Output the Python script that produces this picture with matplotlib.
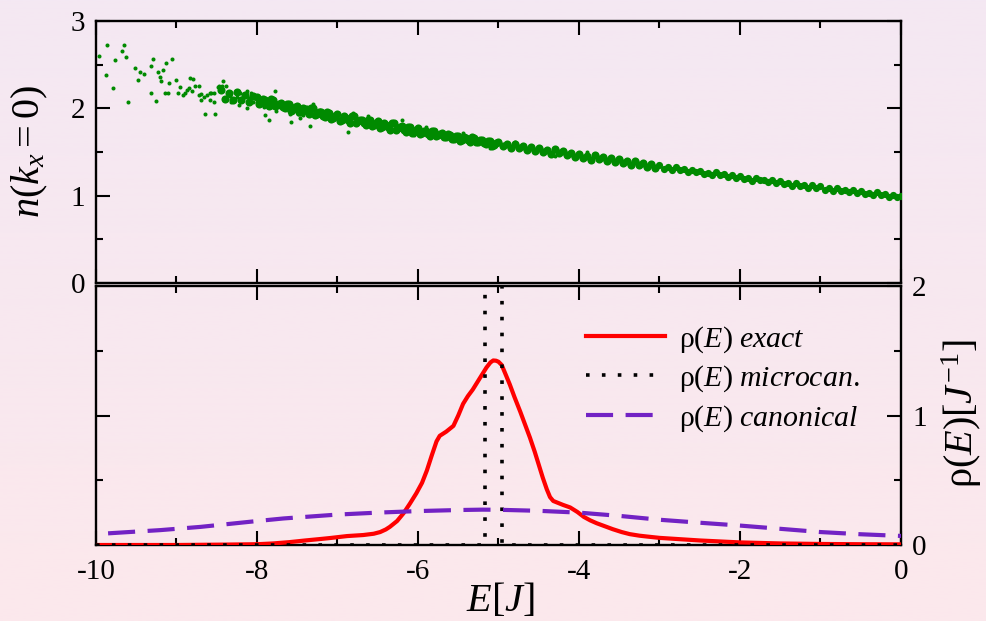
import numpy as np
import matplotlib
matplotlib.use("Agg")
import matplotlib.pyplot as plt
from matplotlib.ticker import MultipleLocator, FuncFormatter

plt.rcParams['font.family'] = ['Liberation Serif', 'DejaVu Serif']
plt.rcParams['mathtext.fontset'] = 'custom'
plt.rcParams['mathtext.rm'] = 'Liberation Serif'
plt.rcParams['mathtext.it'] = 'Liberation Serif:italic'
plt.rcParams['axes.unicode_minus'] = False

# ---------------- data: top panel (n(k_x=0) vs E) ----------------
sparse_E = [-9.96, -9.86, -9.87, -9.79, -9.77, -9.68, -9.65, -9.63, -9.60, -9.51,
            -9.48, -9.45, -9.40, -9.32, -9.32, -9.29, -9.25, -9.23, -9.21, -9.17,
            -9.19, -9.13, -9.14, -9.11, -9.09, -9.06, -9.01, -8.98, -8.96, -8.92,
            -8.90, -8.87, -8.83, -8.80, -8.85, -8.81, -8.77, -8.72, -8.72, -8.69,
            -8.69, -8.66, -8.65, -8.62, -8.59, -8.59, -8.57, -8.53, -8.54, -8.52,
            -8.49, -8.47, -8.44, -8.42, -8.43, -8.39, -8.38, -8.34, -8.32, -8.29,
            -8.26, -8.25, -8.21, -8.22, -8.19, -8.15, -8.13, -8.12, -8.10, -8.07,
            -8.05, -8.04, -8.00, -8.00, -7.97, -7.93, -7.91, -7.90, -7.88, -7.85,
            -7.83, -7.81, -7.78, -7.77, -7.75, -7.71, -7.68, -7.65, -7.62, -7.59,
            -7.58, -7.55, -7.52, -7.49, -7.47, -7.43, -7.40, -7.38, -7.36, -7.34,
            -7.32, -7.30, -7.28, -7.25, -7.22, -7.20, -7.16, -7.11,
            -6.87, -6.81, -6.62, -6.20, -6.05, -5.90, -5.44, -5.10, -4.80, -4.30, -3.90]
sparse_n = [2.60, 2.73, 2.38, 2.23, 2.55, 2.66, 2.72, 2.59, 2.07, 2.46,
            2.33, 2.42, 2.39, 2.49, 2.17, 2.57, 2.08, 2.42, 2.36, 2.44,
            2.31, 2.52, 2.17, 2.17, 2.29, 2.56, 2.33, 2.18, 2.24, 2.15,
            2.17, 2.21, 2.35, 2.34, 2.23, 2.20, 2.26, 2.26, 2.15, 2.16,
            2.09, 2.13, 1.94, 2.15, 2.18, 2.09, 2.18, 2.18, 2.07, 1.94,
            2.24, 2.26, 2.26, 2.31, 2.22, 2.26, 2.11, 2.14, 2.07, 2.11,
            2.20, 2.13, 2.17, 2.04, 2.12, 2.15, 2.20, 2.00, 2.12, 2.17,
            2.07, 2.12, 2.07, 2.13, 2.09, 2.05, 2.01, 1.92, 2.07, 1.87,
            2.02, 2.05, 2.20, 1.97, 2.02, 2.02, 2.05, 2.01, 2.06, 1.94,
            1.84, 1.96, 1.99, 1.94, 1.89, 1.92, 1.97, 2.02, 1.92, 1.80,
            1.94, 2.05, 1.98, 1.92, 1.98, 1.91, 1.94, 1.91,
            1.73, 1.95, 1.91, 1.87, 1.69, 1.79, 1.72, 1.55, 1.62, 1.45, 1.50]

band_E = [-8.45, -8.40, -8.35, -8.30, -8.25, -8.20, -8.15, -8.10, -8.05,
          -8.00, -7.95, -7.90, -7.85, -7.80, -7.75, -7.70, -7.65, -7.60, -7.55,
          -7.50, -7.45, -7.40, -7.35, -7.30, -7.25, -7.20, -7.15, -7.10, -7.05,
          -7.00, -6.95, -6.90, -6.85, -6.80, -6.75, -6.70, -6.65, -6.60, -6.55,
          -6.50, -6.45, -6.40, -6.35, -6.30, -6.25, -6.20, -6.15, -6.10, -6.05,
          -6.00, -5.95, -5.90, -5.85, -5.80, -5.75, -5.70, -5.65, -5.60, -5.55,
          -5.50, -5.45, -5.40, -5.35, -5.30, -5.25, -5.20, -5.15, -5.10, -5.05,
          -5.00, -4.95, -4.90, -4.85, -4.80, -4.75, -4.70, -4.65, -4.60, -4.55,
          -4.50, -4.45, -4.40, -4.35, -4.30, -4.25, -4.20, -4.15, -4.10, -4.05,
          -4.00, -3.95, -3.90, -3.85, -3.80, -3.75, -3.70, -3.65, -3.60, -3.55,
          -3.50, -3.45, -3.40, -3.35, -3.30, -3.25, -3.20, -3.15, -3.10, -3.05,
          -3.00, -2.95, -2.90, -2.85, -2.80, -2.75, -2.70, -2.65, -2.60, -2.55,
          -2.50, -2.45, -2.40, -2.35, -2.30, -2.25, -2.20, -2.15, -2.10, -2.05,
          -2.00, -1.95, -1.90, -1.85, -1.80, -1.75, -1.70, -1.65, -1.60, -1.55,
          -1.50, -1.45, -1.40, -1.35, -1.30, -1.25, -1.20, -1.15, -1.10, -1.05,
          -1.00, -0.95, -0.90, -0.85, -0.80, -0.75, -0.70, -0.65, -0.60, -0.55,
          -0.50, -0.45, -0.40, -0.35, -0.30, -0.25, -0.20, -0.15, -0.10, -0.05,
          0.00]
band_n = [2.210, 2.110, 2.170, 2.090, 2.190, 2.100, 2.150, 2.070, 2.140,
          2.130, 2.060, 2.090, 2.030, 2.100, 2.040, 2.060, 2.000, 2.050, 1.990,
          2.030, 1.960, 1.990, 1.930, 2.000, 1.940, 1.960, 1.900, 1.950, 1.890,
          1.930, 1.862, 1.894, 1.836, 1.908, 1.850, 1.872, 1.814, 1.866, 1.808,
          1.850, 1.782, 1.814, 1.756, 1.828, 1.770, 1.792, 1.734, 1.786, 1.728,
          1.770, 1.713, 1.735, 1.688, 1.740, 1.693, 1.715, 1.668, 1.700, 1.653,
          1.685, 1.638, 1.660, 1.613, 1.665, 1.618, 1.640, 1.593, 1.625, 1.578,
          1.610, 1.564, 1.587, 1.541, 1.594, 1.548, 1.571, 1.525, 1.558, 1.512,
          1.545, 1.499, 1.522, 1.476, 1.529, 1.483, 1.506, 1.460, 1.493, 1.447,
          1.480, 1.434, 1.457, 1.411, 1.464, 1.418, 1.441, 1.395, 1.428, 1.382,
          1.415, 1.369, 1.392, 1.346, 1.399, 1.353, 1.376, 1.330, 1.363, 1.317,
          1.350, 1.309, 1.323, 1.292, 1.326, 1.295, 1.304, 1.273, 1.297, 1.266,
          1.285, 1.249, 1.263, 1.232, 1.266, 1.235, 1.244, 1.213, 1.237, 1.206,
          1.225, 1.189, 1.203, 1.172, 1.206, 1.175, 1.184, 1.153, 1.177, 1.146,
          1.165, 1.129, 1.143, 1.112, 1.146, 1.115, 1.124, 1.093, 1.117, 1.086,
          1.105, 1.070, 1.085, 1.054, 1.089, 1.059, 1.069, 1.038, 1.063, 1.033,
          1.053, 1.017, 1.032, 1.002, 1.037, 1.006, 1.016, 0.986, 1.011, 0.980,
          1.000]

band2_E = [-7.975, -7.925, -7.875, -7.825, -7.775, -7.725, -7.675, -7.625, -7.575, -7.525,
           -7.475, -7.425, -7.375, -7.325, -7.275, -7.225, -7.175, -7.125, -7.075, -7.025,
           -6.975, -6.925, -6.875, -6.825, -6.775, -6.725, -6.675, -6.625, -6.575, -6.525,
           -6.475, -6.425, -6.375, -6.325, -6.275, -6.225, -6.175, -6.125, -6.075, -6.025,
           -5.975, -5.925, -5.875, -5.825, -5.775, -5.725, -5.675, -5.625, -5.575, -5.525,
           -5.475, -5.425, -5.375, -5.325, -5.275, -5.225, -5.175, -5.125, -5.075, -5.025]
band2_n = [2.055, 2.105, 2.065, 2.105, 2.025, 2.055, 2.015, 2.055, 1.975, 2.015,
           1.955, 2.005, 1.965, 2.005, 1.925, 1.955, 1.915, 1.955, 1.875, 1.915,
           1.856, 1.908, 1.870, 1.912, 1.834, 1.866, 1.828, 1.870, 1.792, 1.834,
           1.776, 1.828, 1.790, 1.832, 1.754, 1.786, 1.748, 1.790, 1.712, 1.754,
           1.706, 1.744, 1.711, 1.744, 1.686, 1.709, 1.676, 1.704, 1.646, 1.679,
           1.631, 1.669, 1.636, 1.669, 1.611, 1.634, 1.601, 1.629, 1.571, 1.604]

# ---------------- data: bottom panel (rho(E)) ----------------
exact_E = [-10.0, -9.0, -8.4, -8.0, -7.8, -7.6, -7.4, -7.2, -7.09, -6.88,
           -6.68, -6.55, -6.47, -6.40, -6.35, -6.26, -6.18, -6.10, -6.02, -5.95,
           -5.89, -5.83, -5.77, -5.73, -5.65, -5.56, -5.50, -5.44, -5.38, -5.32,
           -5.26, -5.20, -5.15, -5.10, -5.065, -5.03, -5.00, -4.96, -4.92, -4.86,
           -4.80, -4.73, -4.67, -4.61, -4.55, -4.50, -4.45, -4.40, -4.36, -4.32,
           -4.28, -4.20, -4.11, -4.02, -3.94, -3.86, -3.78, -3.68, -3.58, -3.47,
           -3.37, -3.25, -3.15, -3.0, -2.5, -2.0, -1.5, -1.0, -0.5, 0.0]
exact_rho = [0.0, 0.0, 0.003, 0.006, 0.012, 0.022, 0.035, 0.047, 0.054, 0.069,
             0.077, 0.087, 0.10, 0.12, 0.14, 0.185, 0.245, 0.32, 0.40, 0.48,
             0.575, 0.69, 0.80, 0.843, 0.875, 0.92, 1.00, 1.09, 1.15, 1.20,
             1.26, 1.32, 1.37, 1.41, 1.425, 1.423, 1.415, 1.39, 1.33, 1.24,
             1.14, 1.03, 0.93, 0.83, 0.72, 0.62, 0.52, 0.43, 0.37, 0.34,
             0.33, 0.31, 0.29, 0.255, 0.217, 0.19, 0.168, 0.145, 0.122, 0.10,
             0.084, 0.072, 0.065, 0.055, 0.035, 0.02, 0.012, 0.008, 0.006, 0.005]

micro_E = [-10.0, -5.17, -5.17, -4.96, -4.96, 0.0]
micro_rho = [0.0, 0.0, 4.76, 4.76, 0.0, 0.0]

canon_E = [-9.85, -9.2, -8.7, -8.0, -7.67, -7.0, -6.5, -6.0, -5.5, -5.2,
           -5.0, -4.5, -4.0, -3.5, -3.0, -2.5, -2.0, -1.5, -1.0, -0.5, 0.0]
canon_rho = [0.09, 0.115, 0.14, 0.185, 0.205, 0.235, 0.25, 0.262, 0.27, 0.273,
             0.272, 0.264, 0.25, 0.225, 0.195, 0.172, 0.15, 0.125, 0.10, 0.083, 0.07]

legend_labels = [r'$\mathrm{ρ}(E)\ \mathit{exact}$',
                 r'$\mathrm{ρ}(E)\ \mathit{microcan.}$',
                 r'$\mathrm{ρ}(E)\ \mathit{canonical}$']

# ---------------- figure ----------------
W, H = 987, 621
fig = plt.figure(figsize=(W / 100, H / 100), dpi=100)

# background gradient
bg = fig.add_axes([0, 0, 1, 1], zorder=-10)
top_c = np.array([244, 232, 243]) / 255.0
bot_c = np.array([252, 232, 236]) / 255.0
t = np.linspace(0, 1, 256)[:, None]
grad = (top_c[None, :] * (1 - t) + bot_c[None, :] * t)[:, None, :]
bg.imshow(grad, aspect='auto', extent=[0, 1, 0, 1])
bg.set_axis_off()

def fx(px):
    return px / W

def fy(py):
    return 1 - py / H

x0, x1 = 96, 901
ax1 = fig.add_axes([fx(x0), fy(283), fx(x1) - fx(x0), fy(21) - fy(283)])
ax2 = fig.add_axes([fx(x0), fy(545), fx(x1) - fx(x0), fy(286) - fy(545)])

green = '#008a00'
bE = np.array(band_E)
bN = np.array(band_n)
left = bE < -3.0
ax1.scatter(sparse_E, sparse_n, s=8.5, color=green, linewidths=0, zorder=3)
ax1.scatter(bE[left], bN[left], s=34, color=green, linewidths=0, zorder=3)
ax1.scatter(bE[~left], bN[~left], s=27, color=green, linewidths=0, zorder=3)
ax1.scatter(band2_E, band2_n, s=34, color=green, linewidths=0, zorder=3)
ax1.set_xlim(-10, 0)
ax1.set_ylim(0, 3)

ax2.plot(exact_E, exact_rho, color='#ff0000', lw=3, label=legend_labels[0], zorder=3)
ax2.plot(micro_E, micro_rho, color='black', lw=2.6, linestyle=(0, (1, 3.4)),
         label=legend_labels[1], zorder=3)
ax2.plot(canon_E, canon_rho, color='#7222c4', lw=3, linestyle=(0, (6.5, 3)),
         label=legend_labels[2], zorder=3)
ax2.set_xlim(-10, 0)
ax2.set_ylim(0, 2)

int_fmt = FuncFormatter(lambda v, p: '%d' % round(v))
for ax in (ax1, ax2):
    ax.set_facecolor('none')
    for sp in ax.spines.values():
        sp.set_linewidth(1.7)
    ax.xaxis.set_major_locator(MultipleLocator(2))
    ax.xaxis.set_minor_locator(MultipleLocator(1))
    ax.yaxis.set_major_locator(MultipleLocator(1))
    ax.yaxis.set_minor_locator(MultipleLocator(0.5))
    ax.xaxis.set_major_formatter(int_fmt)
    ax.yaxis.set_major_formatter(int_fmt)
    ax.tick_params(which='both', direction='in', top=True, bottom=True,
                   left=True, right=True, width=1.5, labelsize=21)
    ax.tick_params(which='major', length=10)
    ax.tick_params(which='minor', length=5)

ax1.tick_params(labelbottom=False, labelleft=True, labelright=False, pad=8)
ax2.tick_params(axis='y', labelleft=False, labelright=True, pad=8)
ax2.tick_params(axis='x', labelbottom=True, pad=10)

leg = ax2.legend(loc='upper left', bbox_to_anchor=((586 - x0) / 805, (545 - 324) / 259),
                 frameon=False, fontsize=21.5, handlelength=2.65, handletextpad=0.45,
                 labelspacing=0.3, borderpad=0, borderaxespad=0)

# axis labels
fig.text(fx(30), fy(152), r'$\mathit{n(k}_{\mathit{x}}\mathit{=0)}$', rotation=90,
         ha='center', va='center', fontsize=29)
fig.text(fx(962), fy(414), r'$\mathrm{ρ}(E)[J^{\mathit{-1}}]$', rotation=90,
         ha='center', va='center', fontsize=29)
fig.text(fx(500), fy(620), r'$E[J]$', ha='center', va='bottom', fontsize=29)

fig.savefig('out.png', dpi=100)
